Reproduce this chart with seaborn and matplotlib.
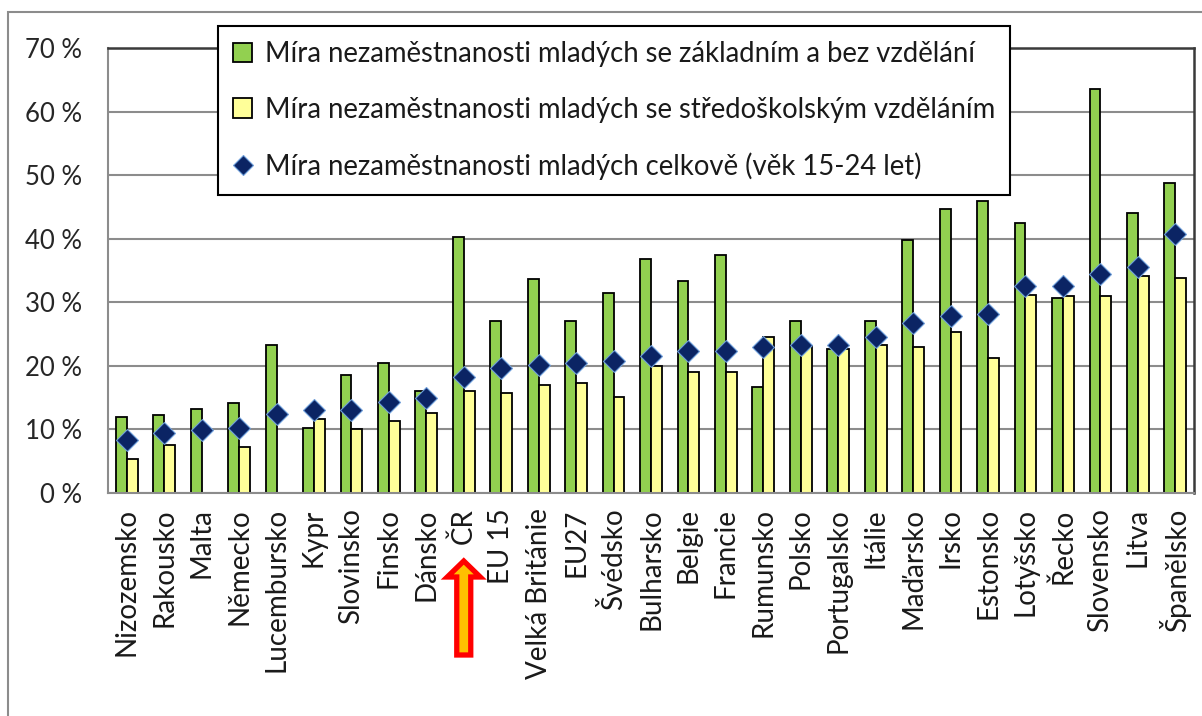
import numpy as np
import pandas as pd
import matplotlib
matplotlib.use("Agg")
import matplotlib.pyplot as plt
import matplotlib.transforms as mtransforms
from matplotlib.patches import Polygon, Rectangle, Patch
from matplotlib.lines import Line2D
import seaborn as sns

categories = ["Nizozemsko", "Rakousko", "Malta", "Německo", "Lucembursko", "Kypr",
              "Slovinsko", "Finsko", "Dánsko", "ČR", "EU 15", "Velká Británie", "EU27",
              "Švédsko", "Bulharsko", "Belgie", "Francie", "Rumunsko", "Polsko",
              "Portugalsko", "Itálie", "Maďarsko", "Irsko", "Estonsko", "Lotyšsko",
              "Řecko", "Slovensko", "Litva", "Španělsko"]
basic = [12.0, 12.3, 13.2, 14.2, 23.3, 10.3, 18.6, 20.5, 16.1, 40.2, 27.1, 33.7, 27.1,
         31.5, 36.8, 33.4, 37.4, 16.6, 27.1, 22.6, 27.1, 39.8, 44.7, 46.0, 42.5,
         30.6, 63.6, 44.1, 48.8]
secondary = [5.4, 7.6, np.nan, 7.3, np.nan, 11.7, 10.1, 11.4, 12.6, 16.1, 15.8, 17.0, 17.3,
             15.1, 19.9, 19.0, 19.0, 24.5, 23.1, 22.6, 23.3, 23.0, 25.3, 21.2, 31.2,
             31.0, 31.0, 34.1, 33.8]
total = [8.3, 9.5, 9.9, 10.2, 12.4, 13.0, 13.0, 14.3, 14.9, 18.3, 19.6, 20.2, 20.5,
         20.8, 21.5, 22.3, 22.3, 23.0, 23.3, 23.3, 24.6, 26.8, 27.9, 28.1, 32.6,
         32.5, 34.5, 35.6, 40.7]
series_labels = ["Míra nezaměstnanosti mladých se základním a bez vzdělání",
                 "Míra nezaměstnanosti mladých se středoškolským vzděláním",
                 "Míra nezaměstnanosti mladých celkově (věk 15-24 let)"]
yticks = [0, 10, 20, 30, 40, 50, 60, 70]
highlight = "ČR"

GREEN = "#92D050"
YELLOW = "#FFFF99"
NAVY = "#0B2464"
GRID = "#8C8C8C"

sns.set_theme(style="white")
plt.rcParams["font.family"] = ["Lato", "DejaVu Sans"]

W, H = 1202, 716
fig = plt.figure(figsize=(W / 100, H / 100), dpi=100)
ax = fig.add_axes([108 / W, 1 - 493 / H, (1194 - 108) / W, (493 - 48) / H])

n = len(categories)
df = pd.DataFrame({
    "cat": categories * 2,
    "value": basic + secondary,
    "series": [series_labels[0]] * n + [series_labels[1]] * n,
})
sns.barplot(data=df, x="cat", y="value", hue="series", order=categories,
            hue_order=series_labels[:2], palette=[GREEN, YELLOW], width=0.58,
            edgecolor="black", linewidth=1.3, saturation=1, errorbar=None,
            legend=False, ax=ax)
sns.pointplot(x=categories, y=total, order=categories, linestyle="none", marker="D",
              color=NAVY, markersize=11, markeredgecolor="#6F9FDA",
              markeredgewidth=0.8, errorbar=None, ax=ax)

ax.set_xlim(-0.5, n - 0.5)
ax.set_ylim(0, 70)
ax.set_yticks(yticks)
ax.set_yticklabels([f"{v} %" for v in yticks])
ax.set_xlabel("")
ax.set_ylabel("")
ax.yaxis.grid(True, color=GRID, lw=1.5)
ax.xaxis.grid(False)
ax.set_axisbelow(True)

for s in ["top", "right"]:
    ax.spines[s].set_color("#3A3A3A")
    ax.spines[s].set_linewidth(1.8)
for s in ["left", "bottom"]:
    ax.spines[s].set_color(GRID)
    ax.spines[s].set_linewidth(1.5)

ax.set_xticks(range(n))
ax.set_xticklabels(categories, rotation=90, fontsize=20, color="#1A1A1A")
ax.set_xticks(np.arange(n + 1) - 0.5, minor=True)
ax.tick_params(axis="x", which="major", length=0, pad=11)
ax.tick_params(axis="x", which="minor", length=7, width=1.3, color=GRID, direction="out")
ax.tick_params(axis="y", which="major", length=7, width=1.3, color=GRID, direction="out",
               labelsize=18.5, labelcolor="#262626", pad=11.5)

# highlight arrow under the ČR label
ci = categories.index(highlight)
trans = mtransforms.blended_transform_factory(ax.transData, ax.transAxes)
ah = 445.0
tip, base, bottom = -(561 - 493) / ah, -(577 - 493) / ah, -(655 - 493) / ah
hw, sw = 16.5 / 37.45, 7 / 37.45
arrow = Polygon([(ci, tip), (ci + hw, base), (ci + sw, base), (ci + sw, bottom),
                 (ci - sw, bottom), (ci - sw, base), (ci - hw, base)],
                closed=True, facecolor="#FFC000", edgecolor="#FF0000", lw=3.8,
                joinstyle="miter", transform=trans, clip_on=False, zorder=5)
ax.add_patch(arrow)

handles = [Patch(facecolor=GREEN, edgecolor="black", lw=1.3),
           Patch(facecolor=YELLOW, edgecolor="black", lw=1.3),
           Line2D([], [], marker="D", ls="none", color=NAVY, markersize=10,
                  markeredgecolor="#6F9FDA", markeredgewidth=0.8)]
leg = fig.legend(handles, series_labels, loc="upper left",
                 bbox_to_anchor=(218 / W, 1 - 26 / H), frameon=True, fancybox=False,
                 framealpha=1, edgecolor="black", fontsize=19.8, labelspacing=1.07,
                 handlelength=0.7, handleheight=0.7, handletextpad=0.45,
                 borderpad=0.55, borderaxespad=0)
leg.get_frame().set_linewidth(1.5)
for t in leg.get_texts():
    t.set_color("#1A1A1A")

# chart area border
fig.add_artist(Rectangle((8 / W, -0.5), 2, 1.5 - 12 / H, transform=fig.transFigure,
                         fill=False, edgecolor=GRID, lw=1.5))

fig.savefig("out.png", dpi=100)
